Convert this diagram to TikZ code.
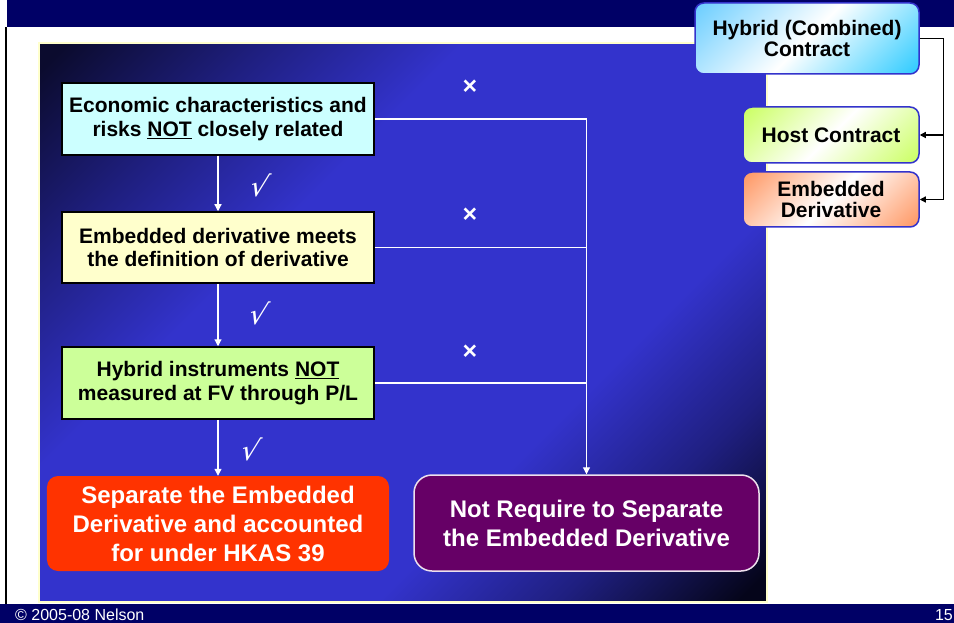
\documentclass[tikz,border=0pt]{standalone}
\usepackage{fontspec}
\setmainfont{Liberation Sans}
\newfontfamily\tickfont{DejaVu Sans}
\usetikzlibrary{arrows.meta}

% slide colours
\definecolor{slidenavy}{HTML}{000066}
\definecolor{pDark}{HTML}{0B0B2E}
\definecolor{pMid}{HTML}{1F1F80}
\definecolor{pBlue}{HTML}{3333CC}
\definecolor{pEnd}{HTML}{05051A}
\definecolor{rimyellow}{HTML}{FFFFCC}
\definecolor{boxcyan}{HTML}{CCFFFF}
\definecolor{boxcream}{HTML}{FFFFCC}
\definecolor{boxgreen}{HTML}{CCFF99}
\definecolor{outred}{HTML}{FF3300}
\definecolor{outpurple}{HTML}{660066}
\definecolor{tagblue}{HTML}{3333CC}
\definecolor{skyA}{HTML}{6FCFFF}
\definecolor{skyB}{HTML}{33CCFF}
\definecolor{limeA}{HTML}{CCFF66}
\definecolor{limeB}{HTML}{CCFF66}
\definecolor{salmonA}{HTML}{FF9966}
\definecolor{salmonB}{HTML}{FF9966}

% diagonal gradients (start at the top-left corner)
\pgfdeclarehorizontalshading{panelshade}{100bp}{color(0bp)=(pDark); color(16bp)=(pDark); color(27bp)=(pMid); color(38bp)=(pBlue); color(64bp)=(pBlue); color(74bp)=(pMid); color(84bp)=(pEnd); color(100bp)=(pEnd)}
\pgfdeclarehorizontalshading{skyshade}{100bp}{color(0bp)=(skyA); color(16bp)=(skyA); color(50bp)=(white); color(84bp)=(skyB); color(100bp)=(skyB)}
\pgfdeclarehorizontalshading{limeshade}{100bp}{color(0bp)=(limeA); color(16bp)=(limeA); color(50bp)=(white); color(84bp)=(limeB); color(100bp)=(limeB)}
\pgfdeclarehorizontalshading{salmonshade}{100bp}{color(0bp)=(salmonA); color(16bp)=(salmonA); color(50bp)=(white); color(84bp)=(salmonB); color(100bp)=(salmonB)}

\tikzset{
  flowbox/.style={draw=black, line width=1.5bp, minimum width=312bp, minimum height=72bp,
    inner sep=0pt, align=center, font=\fontsize{21bp}{23.5bp}\selectfont\bfseries},
  resultbox/.style={inner sep=0pt, align=center, text=white,
    font=\fontsize{24bp}{29bp}\selectfont\bfseries},
  tagbox/.style={draw=tagblue, line width=1.5bp, rounded corners=9bp, inner sep=0pt,
    align=center, shade, shading angle=-45, font=\fontsize{21bp}{20.5bp}\selectfont\bfseries},
  wire/.style={white, line width=1.2bp},
  wirearrow/.style={-{Triangle[length=7bp,width=7bp]}},
  bracket/.style={black, line width=1.2bp, -{Triangle[length=6bp,width=6bp]}},
  crossmark/.style={text=white, inner sep=0pt, font=\fontsize{25bp}{25bp}\selectfont\bfseries},
  tickmark/.style={text=white, inner sep=0pt, xslant=0.25, font=\fontsize{28bp}{28bp}\tickfont\itshape},
  footer/.style={text=white, inner sep=0pt, font=\fontsize{16bp}{16bp}\selectfont}
}

\begin{document}
\begin{tikzpicture}[x=1bp, y=-1bp]
  \useasboundingbox (0,0) rectangle (954,623);
  \fill[white] (0,0) rectangle (954,623);

  % title and footer bands, left rule
  \fill[slidenavy] (7,0) rectangle (954,27.5);
  \fill[slidenavy] (0,604) rectangle (954,623);
  \draw[black, line width=2bp] (6,27.5) -- (6,604);

  % gradient panel with pale rim
  \shade[shading=panelshade, shading angle=-45] (38.5,43) rectangle (766.5,602);
  \draw[rimyellow, line width=2bp] (38.5,43) rectangle (766.5,602);

  % decision boxes
  \node[flowbox, fill=boxcyan] (q1) at (218,119)
    {Economic characteristics and\\risks \underline{NOT} closely related};
  \node[flowbox, fill=boxcream, minimum height=71bp] (q2) at (218,247.5)
    {Embedded derivative meets\\the definition of derivative};
  \node[flowbox, fill=boxgreen] (q3) at (218,383)
    {Hybrid instruments \underline{NOT}\\measured at FV through P/L};

  % outcomes
  \node[resultbox, fill=outred, rounded corners=11bp, minimum width=342bp, minimum height=95bp]
    (sep) at (218,523.5)
    {Separate the Embedded\\Derivative and accounted\\for under HKAS 39};
  \node[resultbox, fill=outpurple, draw=white!88!outpurple, line width=1.5bp,
    rounded corners=18bp, minimum width=345bp, minimum height=96bp]
    (nosep) at (586.5,523)
    {Not Require to Separate\\the Embedded Derivative};

  % hybrid contract breakdown
  \node[tagbox, shading=skyshade, minimum width=224bp, minimum height=71bp] (hyb) at (807,38.5)
    {Hybrid (Combined)\\Contract};
  \node[tagbox, shading=limeshade, minimum width=176bp, minimum height=56bp] (host) at (831,135)
    {Host Contract};
  \node[tagbox, shading=salmonshade, minimum width=176bp, minimum height=55bp] (emb) at (831,199.5)
    {Embedded\\Derivative};

  \draw[bracket] (hyb.east) -- ++(24,0) |- (host.east);
  \draw[bracket] (hyb.east) -- ++(24,0) |- (emb.east);

  % yes path
  \draw[wire, wirearrow] (q1.south) -- (q2.north);
  \draw[wire, wirearrow] (q2.south) -- (q3.north);
  \draw[wire, wirearrow] (q3.south) -- (sep.north);

  % no path
  \draw[wire] (q2.east) -| (nosep.north);
  \draw[wire] (q3.east) -| (nosep.north);
  \draw[wire, wirearrow] (q1.east) -| (nosep.north);

  % branch marks
  \node[crossmark] (n1) at (470,87) {×};
  \node[crossmark] (n2) at (470,215) {×};
  \node[crossmark] (n3) at (470,352) {×};
  \node[tickmark] (y1) at (260,185) {√};
  \node[tickmark] (y2) at (259,313) {√};
  \node[tickmark] (y3) at (251,449) {√};

  % footer
  \node[footer, anchor=base west] (copy) at (15,620) {© 2005-08 Nelson};
  \node[footer, anchor=base east] (page) at (953,620) {15};
\end{tikzpicture}
\end{document}
